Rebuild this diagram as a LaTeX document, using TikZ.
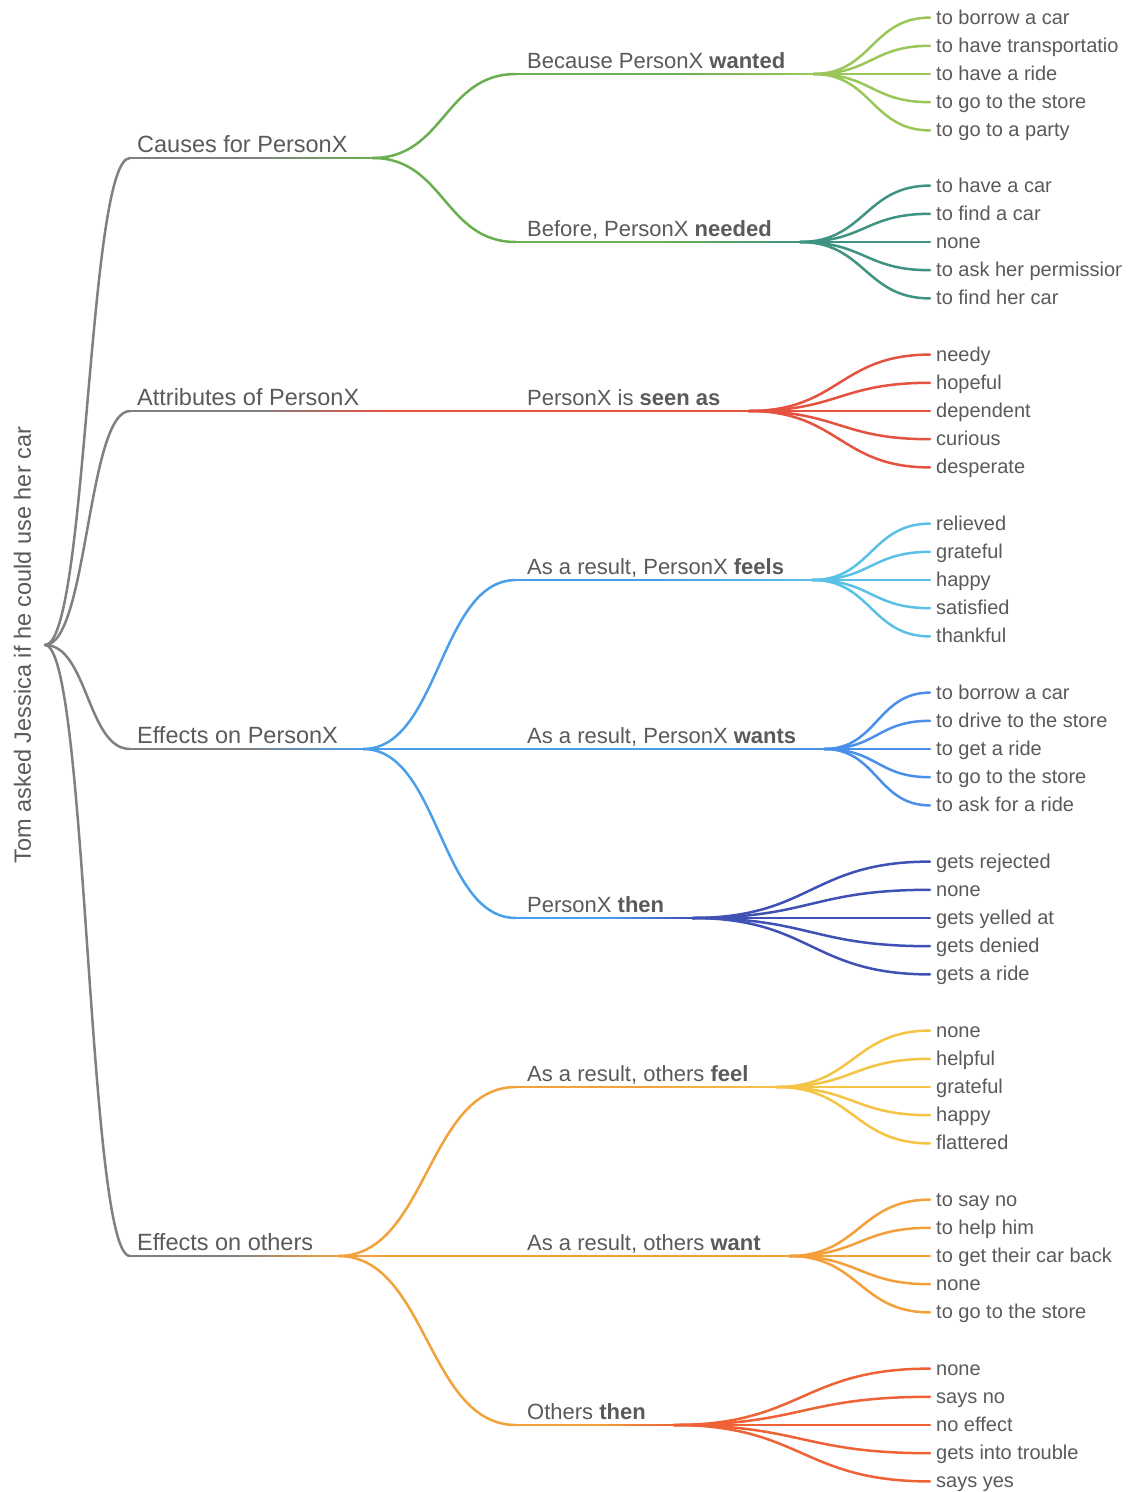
\documentclass[tikz,border=0pt]{standalone}
\usepackage{fontspec}
\setmainfont{Liberation Sans}
\usetikzlibrary{calc}
\definecolor{txt}{HTML}{5A5A5A}
\definecolor{cgr}{HTML}{808080}
\definecolor{cgreen}{HTML}{6AAF4F}
\definecolor{clgreen}{HTML}{9BC75A}
\definecolor{cteal}{HTML}{3E9383}
\definecolor{cred}{HTML}{E5523F}
\definecolor{cblue}{HTML}{4A9FEA}
\definecolor{clblue}{HTML}{5BC0E6}
\definecolor{cmblue}{HTML}{4A8FE8}
\definecolor{cindigo}{HTML}{3F51B5}
\definecolor{corange}{HTML}{F3A23B}
\definecolor{cyellow}{HTML}{F6C445}
\definecolor{corange2}{HTML}{F4A03A}
\definecolor{credor}{HTML}{EE6236}
\tikzset{
 lw/.style={line width=2.5pt, line cap=round},
 seg/.style={line width=2.5pt},
 rootn/.style={rotate=90, anchor=south, inner sep=0pt, text depth=14pt, text=txt, font=\fontsize{23.5}{28}\selectfont},
 lone/.style={anchor=south west, inner xsep=7pt, inner ysep=0pt, text depth=5pt, text=txt, font=\fontsize{23.5}{28}\selectfont},
 ltwo/.style={anchor=south west, inner xsep=11pt, inner ysep=0pt, text depth=5.5pt, text=txt, font=\fontsize{22}{26}\selectfont},
 leaf/.style={anchor=west, inner xsep=6pt, inner ysep=0pt, text height=15.5pt, text depth=2.5pt, text=txt, font=\fontsize{20}{24}\selectfont},
}
\newcommand\lnk[3]{\draw[#3,lw] let \p1=(#1),\p2=(#2) in (\p1) .. controls ({0.5*\x1+0.5*\x2},\y1) and ({0.5*\x1+0.5*\x2},\y2) .. (\p2);}
% gradient underline: solid first half, then colour blend in small segments
\newcommand\gline[4]{%
 \draw[seg,#3] (#1) -- ($(#1)!0.51!(#2)$);
 \foreach \i in {0,...,19}{%
  \pgfmathtruncatemacro\pct{(\i+0.5)*5}%
  \pgfmathsetmacro\ta{0.5+\i*0.025}%
  \pgfmathsetmacro\tb{0.5+(\i+1)*0.025+0.004}%
  \draw[seg,color=#4!\pct!#3] ($(#1)!\ta!(#2)$) -- ($(#1)!\tb!(#2)$);
 }%
}
\newcommand\leafgroup[8]{%
 \node[leaf] (#1-1) at (930,#2-56.4) {#4};
 \node[leaf] (#1-2) at (930,#2-28.2) {#5};
 \node[leaf] (#1-3) at (930,#2) {#6};
 \node[leaf] (#1-4) at (930,#2+28.2) {#7};
 \node[leaf] (#1-5) at (930,#2+56.4) {#8};
 \foreach \k in {1,...,5} {\lnk{#1e}{#1-\k.west}{#3}}
}
\begin{document}
\begin{tikzpicture}[x=1pt,y=-1pt]
\useasboundingbox (0,0) rectangle (1132,1492);
\fill[white] (0,0) rectangle (1132,1492);

% root
\node[rootn] (R) at (45,645) {Tom asked Jessica if he could use her car};

% level 1
\node[lone] (c1) at (130,158) {Causes for PersonX};
\node[lone] (c2) at (130,411) {Attributes of PersonX};
\node[lone] (c3) at (130,749) {Effects on PersonX};
\node[lone] (c4) at (130,1256) {Effects on others};
\foreach \c in {c1,c2,c3,c4} {\coordinate (\c e) at ([xshift=18pt]\c.south east);}

% level 2
\node[ltwo] (d1) at (516,74) {Because PersonX \textbf{wanted}};
\node[ltwo] (d2) at (516,242) {Before, PersonX \textbf{needed}};
\node[ltwo] (d3) at (516,411) {PersonX is \textbf{seen as}};
\node[ltwo] (d4) at (516,580) {As a result, PersonX \textbf{feels}};
\node[ltwo] (d5) at (516,749) {As a result, PersonX \textbf{wants}};
\node[ltwo] (d6) at (516,918) {PersonX \textbf{then}};
\node[ltwo] (d7) at (516,1087) {As a result, others \textbf{feel}};
\node[ltwo] (d8) at (516,1256) {As a result, others \textbf{want}};
\node[ltwo] (d9) at (516,1425) {Others \textbf{then}};
\foreach \d in {d1,d2,d3,d4,d5,d6,d7,d8,d9} {\coordinate (\d e) at ([xshift=17pt]\d.south east);}

% root links
\foreach \c in {c1,c2,c3,c4} {\lnk{R.south}{\c.south west}{cgr}}

% level-1 lines
\gline{c1.south west}{c1e}{cgr}{cgreen}
\gline{c2.south west}{c2e}{cgr}{cred}
\gline{c3.south west}{c3e}{cgr}{cblue}
\gline{c4.south west}{c4e}{cgr}{corange}

% level-1 to level-2 links
\lnk{c1e}{d1.south west}{cgreen}
\lnk{c1e}{d2.south west}{cgreen}
\lnk{c2e}{d3.south west}{cred}
\lnk{c3e}{d4.south west}{cblue}
\lnk{c3e}{d5.south west}{cblue}
\lnk{c3e}{d6.south west}{cblue}
\lnk{c4e}{d7.south west}{corange}
\lnk{c4e}{d8.south west}{corange}
\lnk{c4e}{d9.south west}{corange}

% level-2 lines
\gline{d1.south west}{d1e}{cgreen}{clgreen}
\gline{d2.south west}{d2e}{cgreen}{cteal}
\gline{d3.south west}{d3e}{cred}{cred}
\gline{d4.south west}{d4e}{cblue}{clblue}
\gline{d5.south west}{d5e}{cblue}{cmblue}
\gline{d6.south west}{d6e}{cblue}{cindigo}
\gline{d7.south west}{d7e}{corange}{cyellow}
\gline{d8.south west}{d8e}{corange}{corange2}
\gline{d9.south west}{d9e}{corange}{credor}

% leaves
\begin{scope}
\clip (0,0) rectangle (1121,1492);
\leafgroup{d1}{74}{clgreen}{to borrow a car}{to have transportatio}{to have a ride}{to go to the store}{to go to a party}
\leafgroup{d2}{242}{cteal}{to have a car}{to find a car}{none}{to ask her permission}{to find her car}
\leafgroup{d3}{411}{cred}{needy}{hopeful}{dependent}{curious}{desperate}
\leafgroup{d4}{580}{clblue}{relieved}{grateful}{happy}{satisfied}{thankful}
\leafgroup{d5}{749}{cmblue}{to borrow a car}{to drive to the store}{to get a ride}{to go to the store}{to ask for a ride}
\leafgroup{d6}{918}{cindigo}{gets rejected}{none}{gets yelled at}{gets denied}{gets a ride}
\leafgroup{d7}{1087}{cyellow}{none}{helpful}{grateful}{happy}{flattered}
\leafgroup{d8}{1256}{corange2}{to say no}{to help him}{to get their car back}{none}{to go to the store}
\leafgroup{d9}{1425}{credor}{none}{says no}{no effect}{gets into trouble}{says yes}
\end{scope}
\end{tikzpicture}
\end{document}
